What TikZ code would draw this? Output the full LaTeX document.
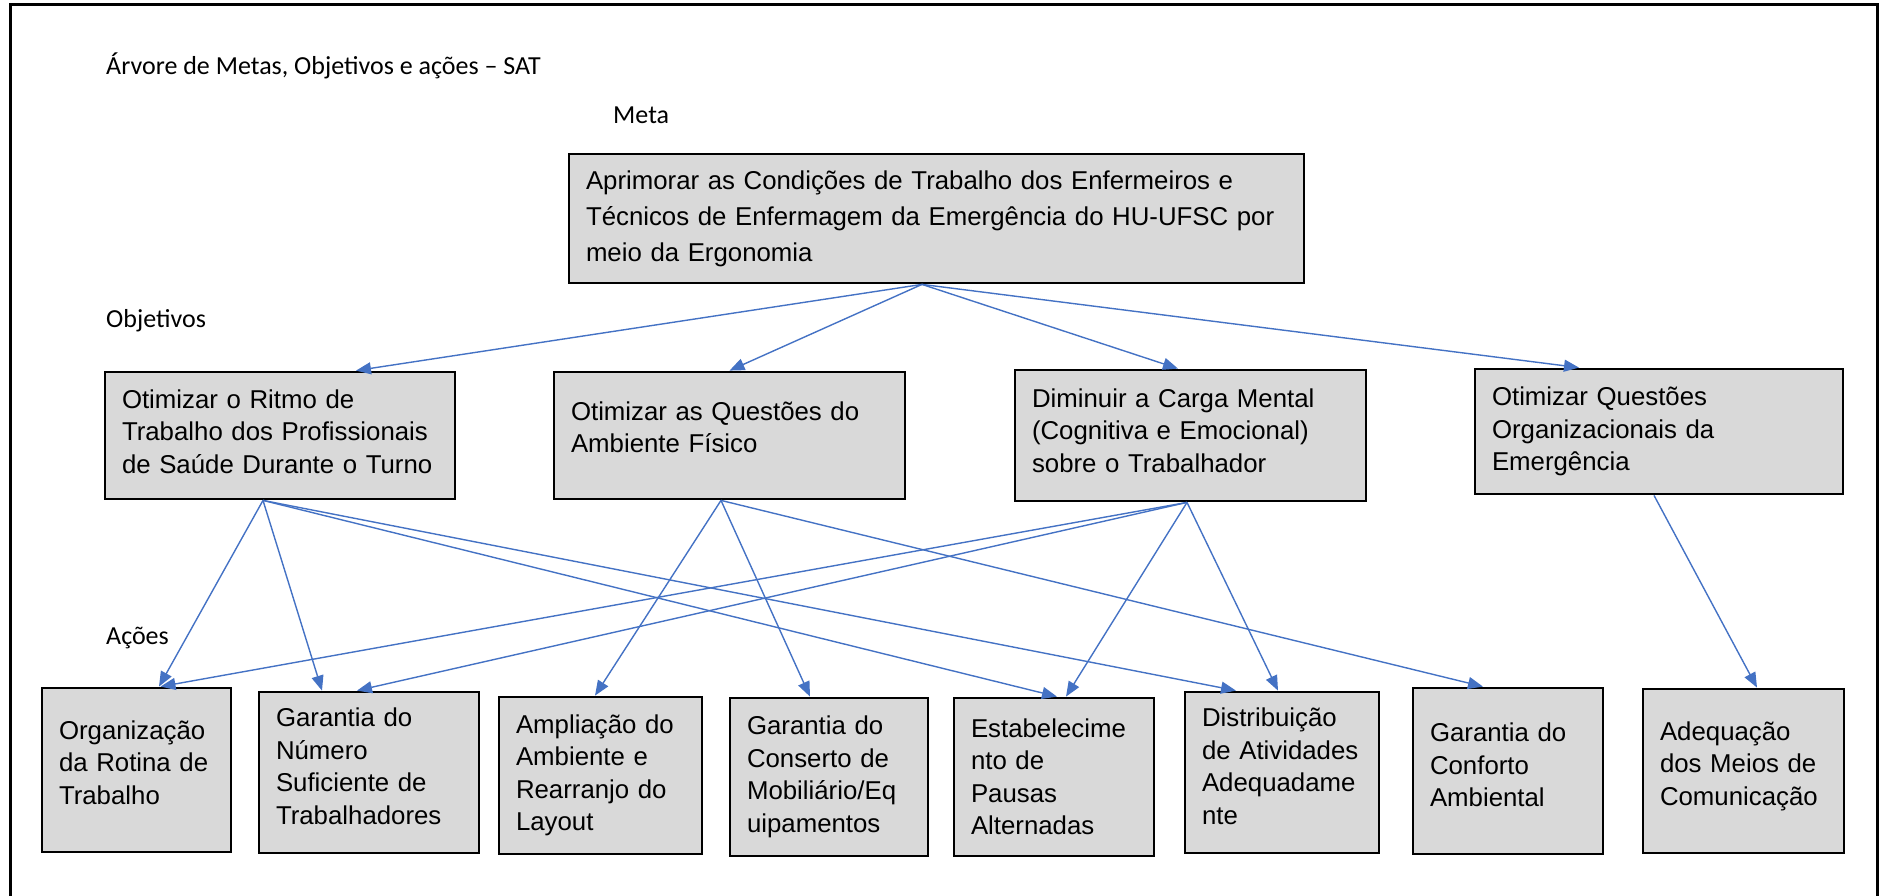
\documentclass[tikz,border=0pt]{standalone}
\usepackage{fontspec}
\usepackage{tikz}
\usetikzlibrary{arrows.meta}
\newfontfamily\arialfont{Liberation Sans}
\newfontfamily\calibrifont{Carlito}
\definecolor{boxgray}{HTML}{D9D9D9}
\definecolor{linkblue}{HTML}{4472C4}
\tikzset{
	box/.style={draw=black, line width=2.8pt, fill=boxgray, align=left, inner xsep=17pt, inner ysep=0pt,
		font=\arialfont\fontsize{25.8}{32.5}\selectfont},
	lift/.style={execute at end node={\par\vspace{#1}\hrule height 0pt width 0pt}},
	link/.style={draw=linkblue, line width=1.4pt, -{Triangle[length=15pt,width=12pt]}},
	caption/.style={anchor=west, inner sep=0pt, font=\calibrifont\fontsize{26}{31}\selectfont}
}

\begin{document}
\begin{tikzpicture}[x=1pt, y=-1pt]
			%%%%% START %%%%%
			\useasboundingbox (0,0) rectangle (1885,896);
			
			\draw[line width=3pt] (10,896) -- (10,5) -- (1877,5) -- (1877,896);
			
			\node[caption] (title) at (106,66) {Árvore de Metas, Objetivos e ações – SAT};
			\node[caption] (lblmeta) at (613,115) {Meta};
			\node[caption] (lblobj) at (106,321) {Objetivos};
			\node[caption] (lblacoes) at (106,638) {Ações};
			
			% meta
			\node[box, text width=701pt, minimum height=129pt, font=\arialfont\fontsize{25.8}{36}\selectfont] (meta) at (936.5,218.5)
				{Aprimorar as Condições de Trabalho dos Enfermeiros e\\Técnicos de Enfermagem da Emergência do HU-UFSC por\\meio da Ergonomia};
			
			% objetivos
			\node[box, text width=316pt, minimum height=127pt, lift=8pt] (o1) at (280,435.5)
				{Otimizar o Ritmo de\\Trabalho dos Profissionais\\de Saúde Durante o Turno};
			\node[box, text width=317pt, minimum height=127pt, lift=16pt] (o2) at (729.5,435.5)
				{Otimizar as Questões do\\Ambiente Físico};
			\node[box, text width=317pt, minimum height=131pt, lift=10pt] (o3) at (1190.5,435.5)
				{Diminuir a Carga Mental\\(Cognitiva e Emocional)\\sobre o Trabalhador};
			\node[box, text width=334pt, minimum height=125pt] (o4) at (1659,431.5)
				{Otimizar Questões\\Organizacionais da\\Emergência};
			
			% acoes
			\node[box, text width=155pt, minimum height=164pt, lift=15pt] (a1) at (136.5,770)
				{Organização\\da Rotina de\\Trabalho};
			\node[box, text width=186pt, minimum height=161pt, lift=12pt] (a2) at (369,772.5)
				{Garantia do\\Número\\Suficiente de\\Trabalhadores};
			\node[box, text width=169pt, minimum height=157pt] (a3) at (600.5,775.5)
				{Ampliação do\\Ambiente e\\Rearranjo do\\Layout};
			\node[box, text width=164pt, minimum height=158pt] (a4) at (829,777)
				{Garantia do\\Conserto de\\Mobiliário/Eq\\uipamentos};
			\node[box, text width=166pt, minimum height=158pt] (a5) at (1054,777)
				{Estabelecime\\nto de\\Pausas\\Alternadas};
			\node[box, text width=160pt, minimum height=161pt, lift=12pt] (a6) at (1282,772.5)
				{Distribuição\\de Atividades\\Adequadame\\nte};
			\node[box, text width=156pt, minimum height=166pt, lift=12pt] (a7) at (1508,771)
				{Garantia do\\Conforto\\Ambiental};
			\node[box, text width=167pt, minimum height=164pt, lift=10pt] (a8) at (1743.5,771)
				{Adequação\\dos Meios de\\Comunicação};
			
			% meta -> objetivos
			\draw[link] ([xshift=-14.5pt]meta.south) -- ([xshift=76pt]o1.north);
			\draw[link] ([xshift=-14.5pt]meta.south) -- (o2.north);
			\draw[link] ([xshift=-14.5pt]meta.south) -- ([xshift=-12.5pt]o3.north);
			\draw[link] ([xshift=-14.5pt]meta.south) -- ([xshift=-80pt]o4.north);
			
			% objetivos -> acoes
			\draw[link] ([xshift=-17pt]o1.south) -- ([xshift=22.5pt]a1.north);
			\draw[link] ([xshift=-17pt]o1.south) -- ([xshift=-47pt]a2.north);
			\draw[link] ([xshift=-17pt]o1.south) -- ([xshift=3pt]a5.north);
			\draw[link] ([xshift=-17pt]o1.south) -- ([xshift=-46pt]a6.north);
			
			\draw[link] ([xshift=-8.5pt]o2.south) -- ([xshift=-5.5pt]a3.north);
			\draw[link] ([xshift=-8.5pt]o2.south) -- ([xshift=-19pt]a4.north);
			\draw[link] ([xshift=-8.5pt]o2.south) -- ([xshift=-25pt]a7.north);
			
			\draw[link] ([xshift=-3.5pt]o3.south) -- ([xshift=24pt]a1.north);
			\draw[link] ([xshift=-3.5pt]o3.south) -- ([xshift=-12pt]a2.north);
			\draw[link] ([xshift=-3.5pt]o3.south) -- ([xshift=12pt]a5.north);
			\draw[link] ([xshift=-3.5pt]o3.south) -- ([xshift=-4pt]a6.north);
			
			\draw[link] ([xshift=-5pt]o4.south) -- ([xshift=13.5pt]a8.north);
			
			%%%%% END %%%%%
\end{tikzpicture}
\end{document}
